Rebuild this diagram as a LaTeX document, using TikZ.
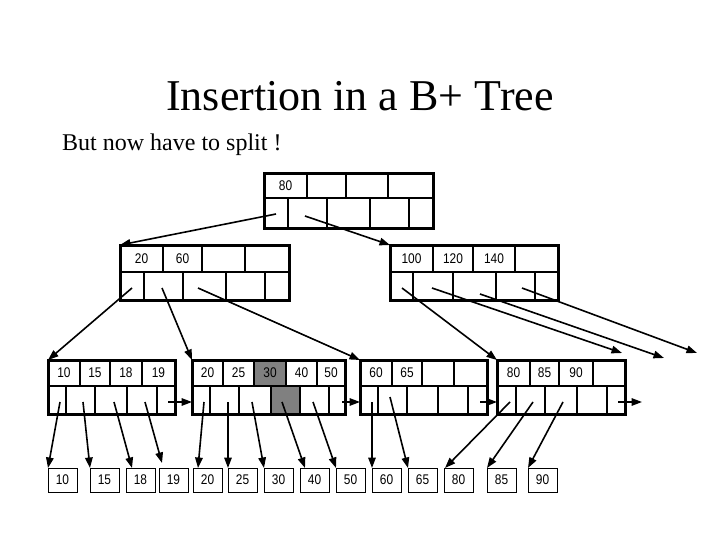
\documentclass[tikz,border=0pt]{standalone}
\usepackage{fontspec}
\setmainfont{Liberation Serif}
\newfontfamily\keyfont[FakeStretch=0.85]{Liberation Sans}
\usetikzlibrary{arrows.meta}
\begin{document}
\begin{tikzpicture}[x=1pt,y=-1pt,
  bbox/.style={draw,line width=3pt,inner sep=0pt,outer sep=0pt,anchor=north west},
  cellline/.style={line width=2.2pt},
  ptr/.style={line width=1.6pt,-{Triangle[length=10.5pt,width=7.5pt]}},
  key/.style={font=\keyfont\fontsize{14}{16}\selectfont,inner sep=0pt},
  leafbox/.style={draw,line width=0.9pt,minimum width=29pt,minimum height=24pt,inner sep=0pt,outer sep=0pt,anchor=north west,font=\keyfont\fontsize{14}{16}\selectfont},
  hl/.style={fill=black!50}]
\useasboundingbox (0,0) rectangle (720,540);
\fill[white] (0,0) rectangle (720,540);

% titles
\node[inner sep=0pt,anchor=base,font=\fontsize{44}{50}\selectfont] (title) at (360,111) {Insertion in a B+ Tree};
\node[inner sep=0pt,anchor=base west,font=\fontsize{24}{28}\selectfont] (sub) at (62,151) {But now have to split !};

% root
\foreach \x in {307,346,388} \draw[cellline] (\x,174) -- (\x,198);
\draw[cellline] (264,198) -- (433,198);
\foreach \x in {288,327,370,409} \draw[cellline] (\x,198) -- (\x,229);
\node[bbox,minimum width=169pt,minimum height=55pt] (root) at (264,174) {};
\node[key] (r80) at (285.5,186) {80};

% inner left
\foreach \x in {163,202,245} \draw[cellline] (\x,245) -- (\x,272);
\draw[cellline] (120,272) -- (289,272);
\foreach \x in {144,183,226,265} \draw[cellline] (\x,272) -- (\x,300);
\node[bbox,minimum width=169pt,minimum height=55pt] (ia) at (120,245) {};
\node[key] (a20) at (141.5,258.5) {20};
\node[key] (a60) at (182.5,258.5) {60};

% inner right
\foreach \x in {433,473,515} \draw[cellline] (\x,245) -- (\x,272);
\draw[cellline] (390,272) -- (558,272);
\foreach \x in {413,453,496,535} \draw[cellline] (\x,272) -- (\x,300);
\node[bbox,minimum width=168pt,minimum height=55pt] (ib) at (390,245) {};
\node[key] (b100) at (411.5,258.5) {100};
\node[key] (b120) at (453,258.5) {120};
\node[key] (b140) at (494,258.5) {140};

% leaf-level node 1
\foreach \x in {80,110,142} \draw[cellline] (\x,360) -- (\x,386);
\draw[cellline] (48,386) -- (175,386);
\foreach \x in {66,95,127,157} \draw[cellline] (\x,386) -- (\x,414);
\node[bbox,minimum width=127pt,minimum height=54pt] (n1) at (48,360) {};
\node[key] (k10) at (64,373) {10};
\node[key] (k15) at (95,373) {15};
\node[key] (k18) at (126,373) {18};
\node[key] (k19) at (158.5,373) {19};

% leaf-level node 2
\fill[hl] (254,360) rectangle (286,386);
\fill[hl] (271,386) rectangle (300,414);
\foreach \x in {223,254,286,317} \draw[cellline] (\x,360) -- (\x,386);
\draw[cellline] (192,386) -- (345,386);
\foreach \x in {210,239,271,300,329} \draw[cellline] (\x,386) -- (\x,414);
\node[bbox,minimum width=153pt,minimum height=54pt] (n2) at (192,360) {};
\node[key] (k20) at (207.5,373) {20};
\node[key] (k25) at (238.5,373) {25};
\node[key] (k30) at (270,373) {30};
\node[key] (k40) at (301.5,373) {40};
\node[key] (k50) at (331,373) {50};

% leaf-level node 3
\foreach \x in {392,422,454} \draw[cellline] (\x,360) -- (\x,386);
\draw[cellline] (360,386) -- (487,386);
\foreach \x in {378,407,438,468} \draw[cellline] (\x,386) -- (\x,414);
\node[bbox,minimum width=127pt,minimum height=54pt] (n3) at (360,360) {};
\node[key] (k60) at (376,373) {60};
\node[key] (k65) at (407,373) {65};

% leaf-level node 4
\foreach \x in {530,559,593} \draw[cellline] (\x,360) -- (\x,386);
\draw[cellline] (497,386) -- (625,386);
\foreach \x in {516,545,577,607} \draw[cellline] (\x,386) -- (\x,414);
\node[bbox,minimum width=128pt,minimum height=54pt] (n4) at (497,360) {};
\node[key] (k80) at (513.5,373) {80};
\node[key] (k85) at (544.5,373) {85};
\node[key] (k90) at (576,373) {90};

% data records
\node[leafbox] (l10) at (48,468) {10};
\node[leafbox] (l15) at (90,468) {15};
\node[leafbox] (l18) at (126,468) {18};
\node[leafbox] (l19) at (159,468) {19};
\node[leafbox] (l20) at (193,468) {20};
\node[leafbox] (l25) at (228,468) {25};
\node[leafbox] (l30) at (264,468) {30};
\node[leafbox] (l40) at (300,468) {40};
\node[leafbox] (l50) at (336,468) {50};
\node[leafbox] (l60) at (372,468) {60};
\node[leafbox] (l65) at (408,468) {65};
\node[leafbox] (l80) at (444,468) {80};
\node[leafbox] (l85) at (487,468) {85};
\node[leafbox] (l90) at (528,468) {90};

% pointer origins
\coordinate (rp1) at (276,214);
\coordinate (rp2) at (305,216);
\coordinate (ap1) at (132,288);
\coordinate (ap2) at (162,288);
\coordinate (ap3) at (198,288);
\coordinate (bp1) at (402,288);
\coordinate (bp2) at (432,288);
\coordinate (bp3) at (480,294);
\coordinate (bp4) at (522,288);
\coordinate (be2) at (622,353);
\coordinate (be3) at (664,358);
\coordinate (be4) at (697,353);
\coordinate (c1) at (60,402);
\coordinate (c2) at (83,402);
\coordinate (c3) at (114,402);
\coordinate (c4) at (145,402);
\coordinate (c5) at (168,402);
\coordinate (d1) at (204,402);
\coordinate (d2) at (228,402);
\coordinate (d3) at (252,402);
\coordinate (d4) at (282,402);
\coordinate (d5) at (313,402);
\coordinate (d6) at (342,402);
\coordinate (e1) at (372,402);
\coordinate (e2) at (390,397);
\coordinate (e6) at (480,402);
\coordinate (f1) at (510,402);
\coordinate (f2) at (533,402);
\coordinate (f3) at (563,402);
\coordinate (f6) at (618,402);
\coordinate (fend) at (642,402);

% connectors
\draw[ptr] (rp1) -- (ia.north west);
\draw[ptr] (rp2) -- (ib.north west);
\draw[ptr] (ap1) -- (n1.north west);
\draw[ptr] (ap2) -- (n2.north west);
\draw[ptr] (ap3) -- (n3.north west);
\draw[ptr] (bp1) -- (n4.north west);
\draw[ptr] (bp2) -- (be2);
\draw[ptr] (bp3) -- (be3);
\draw[ptr] (bp4) -- (be4);

\draw[ptr] (c5) -- (n2.west |- c5);
\draw[ptr] (d6) -- (n3.west |- d6);
\draw[ptr] (e6) -- (n4.west |- e6);
\draw[ptr] (f6) -- (fend);

\draw[ptr] (c1) -- (l10.north west);
\draw[ptr] (c2) -- (l15.north west);
\draw[ptr] (c3) -- ([xshift=6pt]l18.north west);
\draw[ptr] (c4) -- ([xshift=3pt,yshift=5pt]l19.north west);
\draw[ptr] (d1) -- ([xshift=5pt]l20.north west);
\draw[ptr] (d2) -- (l25.north west);
\draw[ptr] (d3) -- (l30.north west);
\draw[ptr] (d4) -- ([xshift=5pt]l40.north west);
\draw[ptr] (d5) -- (l50.north west);
\draw[ptr] (e1) -- (l60.north west);
\draw[ptr] (e2) -- (l65.north west);
\draw[ptr] (f1) -- ([xshift=1pt]l80.north west);
\draw[ptr] (f2) -- (l85.north west);
\draw[ptr] (f3) -- (l90.north west);
\end{tikzpicture}
\end{document}
